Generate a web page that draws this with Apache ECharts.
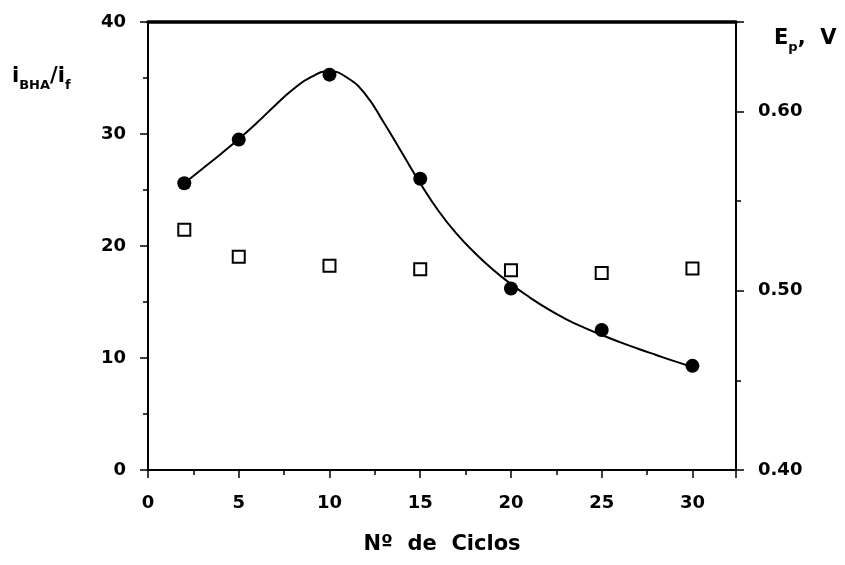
<!DOCTYPE html>
<html>
<head>
<meta charset="utf-8">
<script src="https://cdn.jsdelivr.net/npm/echarts@6/dist/echarts.min.js"></script>
<style>html,body{margin:0;padding:0;background:#fff}#c{width:845px;height:565px}</style>
</head>
<body>
<div id="c"></div>
<script>
// Data
const cycles = [2, 5, 10, 15, 20, 25, 30];
const ratioValues = [25.6, 29.5, 35.3, 26.0, 16.2, 12.5, 9.3];      // filled circles, left axis
const epValues = [0.534, 0.519, 0.514, 0.512, 0.5115, 0.510, 0.5125]; // open squares, right axis
const curveX = [2, 3, 4, 5, 6, 7, 8, 9, 10, 11, 12, 13, 14, 15, 16, 17, 18, 19, 20, 21, 22, 23, 24, 25, 26, 27, 28, 29, 30];
const curveY = [25.6, 26.9, 28.2, 29.55, 31.0, 32.55, 34.0, 35.1, 35.6, 35.0, 33.5, 31.0, 28.3, 25.6, 23.15, 21.1, 19.4, 17.9, 16.6, 15.45, 14.4, 13.5, 12.73, 12.05, 11.42, 10.83, 10.27, 9.72, 9.2];
const xTickLabels = ['0', '5', '10', '15', '20', '25', '30'];
const leftTickLabels = ['0', '10', '20', '30', '40'];
const rightTickLabels = ['0.40', '0.50', '0.60'];

const FONT = 'DejaVu Sans';
const chart = echarts.init(document.getElementById('c'), null, {renderer: 'canvas'});
const zip = (a, b) => a.map((v, i) => [v, b[i]]);
const lbl = {fontFamily: FONT, fontSize: 18, fontWeight: 'bold', color: '#000'};

chart.setOption({
  animation: false,
  backgroundColor: '#fff',
  grid: {left: 148, right: 109, top: 22, bottom: 95, containLabel: false},
  xAxis: [{
    type: 'value', min: 0, max: 32.4, interval: 5,
    name: 'Nº  de  Ciclos', nameLocation: 'middle', nameGap: 64,
    nameTextStyle: {fontFamily: FONT, fontSize: 21, fontWeight: 'bold', color: '#000'},
    axisLine: {show: true, onZero: false, lineStyle: {color: '#000', width: 2}},
    axisTick: {show: true, inside: false, length: 8, lineStyle: {color: '#000', width: 1.5}},
    minorTick: {show: true, splitNumber: 2, length: 5, lineStyle: {color: '#000', width: 1.5}},
    splitLine: {show: false}, minorSplitLine: {show: false},
    axisLabel: Object.assign({margin: 24,
      formatter: v => xTickLabels.includes(String(v)) ? String(v) : ''}, lbl)
  }, {
    type: 'value', position: 'top', min: 0, max: 32.4,
    axisLine: {show: true, onZero: false, lineStyle: {color: '#000', width: 3.5}},
    axisTick: {show: false}, axisLabel: {show: false}, splitLine: {show: false}
  }],
  yAxis: [{
    type: 'value', position: 'left', min: 0, max: 40, interval: 10,
    axisLine: {show: true, onZero: false, lineStyle: {color: '#000', width: 2}},
    axisTick: {show: true, length: 8, lineStyle: {color: '#000', width: 1.5}},
    minorTick: {show: true, splitNumber: 2, length: 5, lineStyle: {color: '#000', width: 1.5}},
    splitLine: {show: false}, minorSplitLine: {show: false},
    axisLabel: Object.assign({margin: 22,
      formatter: v => leftTickLabels.includes(String(v)) ? String(v) : ''}, lbl)
  }, {
    type: 'value', position: 'right', min: 0.40, max: 0.65, interval: 0.1,
    axisLine: {show: true, onZero: false, lineStyle: {color: '#000', width: 2}},
    axisTick: {show: true, length: 8, lineStyle: {color: '#000', width: 1.5}},
    minorTick: {show: true, splitNumber: 2, length: 5, lineStyle: {color: '#000', width: 1.5}},
    splitLine: {show: false}, minorSplitLine: {show: false},
    axisLabel: Object.assign({margin: 22,
      formatter: v => { const s = v.toFixed(2); return rightTickLabels.includes(s) ? s : ''; }}, lbl)
  }],
  graphic: [{
    type: 'text', left: 12, top: 66,
    style: {
      text: '{m|i}{s|BHA}{m|/i}{s|f}',
      rich: {
        m: {fontFamily: FONT, fontSize: 21, fontWeight: 'bold', fill: '#000', verticalAlign: 'bottom'},
        s: {fontFamily: FONT, fontSize: 13, fontWeight: 'bold', fill: '#000', padding: [0, 0, -5, 0], verticalAlign: 'bottom'}
      }
    }
  }, {
    type: 'text', left: 774, top: 28,
    style: {
      text: '{m|E}{s|p}{m|,  V}',
      rich: {
        m: {fontFamily: FONT, fontSize: 21, fontWeight: 'bold', fill: '#000', verticalAlign: 'bottom'},
        s: {fontFamily: FONT, fontSize: 13, fontWeight: 'bold', fill: '#000', padding: [0, 0, -5, 0], verticalAlign: 'bottom'}
      }
    }
  }],
  series: [{
    type: 'line', xAxisIndex: 0, yAxisIndex: 0, smooth: 0.5,
    data: zip(curveX, curveY), showSymbol: false,
    lineStyle: {color: '#000', width: 2}, z: 2
  }, {
    type: 'scatter', xAxisIndex: 0, yAxisIndex: 0,
    data: zip(cycles, ratioValues), symbol: 'circle', symbolSize: 14,
    itemStyle: {color: '#000', opacity: 1}, z: 3
  }, {
    type: 'scatter', xAxisIndex: 0, yAxisIndex: 1,
    data: zip(cycles, epValues), symbol: 'rect', symbolSize: 12,
    itemStyle: {color: '#fff', borderColor: '#000', borderWidth: 2, opacity: 1}, z: 3
  }]
});
</script>
</body>
</html>
